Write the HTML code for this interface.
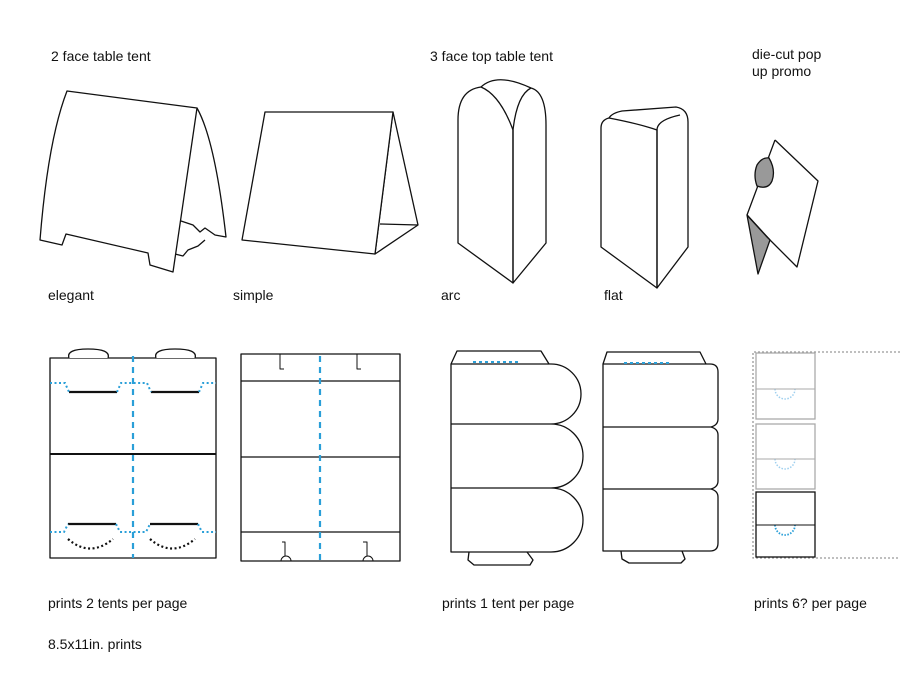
<!DOCTYPE html>
<html><head><meta charset="utf-8"><style>
body{margin:0;background:#fff;}
svg{display:block}
text{font-family:"Liberation Sans",sans-serif;font-size:14px;fill:#111;}
</style></head><body>
<svg width="900" height="695" viewBox="0 0 900 695" xmlns="http://www.w3.org/2000/svg">
<g fill="none" stroke="#111" stroke-width="1.3" stroke-linejoin="round">
<!-- elegant -->
<path d="M197,108 Q215,140 226,237 L215,235 L205,228 L200,232 L193,225 L178,220 L175,254 L183,256 L188,250 L198,246 L205,240" fill="#fff"/>
<path d="M67,91 L197,108 L173,272 L150,265 L148,253 L66,234 L62,245 L40,240 Q48,140 67,91 Z" fill="#fff"/>
<!-- simple -->
<path d="M393,112 L418,225 L375,254 Z M380,224 L418,225"/>
<path d="M265,112 L393,112 L375,254 L242,240 Z" fill="#fff"/>
<!-- arc -->
<path d="M458,243 L458,120 Q458,90 481,87 Q500,95 513,130 L513,283 Z"/>
<path d="M481,87 Q497,72 531,88 Q546,92 546,125 L546,243 L513,283 L513,130 Q517,95 531,88"/>
<!-- flat -->
<path d="M601,247 L601,128 Q601,120 609,118 Q640,124 657,130 L657,288 Z"/>
<path d="M609,118 Q612,113 622,111 L676,107 Q688,109 688,122 L688,247 L657,288 L657,130 Q657,120 680,115"/>
<!-- die-cut -->
<path d="M775,140 L818,181 L797,267 L768,238 M775,140 L747,215" fill="#fff"/>
<path d="M747,215 L758,274 L770,240 Z" fill="#999"/>
<path d="M769,158 Q776,170 772,181 Q768,190 757,186 Q753,175 757,165 Q762,157 769,158 Z" fill="#999"/>
<path d="M747,215 L768,238"/>
<!-- elegant flat -->
<rect x="50" y="358" width="166" height="200"/>
<path d="M69,358 Q66,349 88,349 Q111,349 108,358 M156,358 Q153,349 175,349 Q198,349 195,358" fill="#fff"/>
<line x1="50" y1="454" x2="216" y2="454" stroke-width="2"/>
<path d="M69,392 L117,392 M151,392 L199,392 M68,524 L116,524 M150,524 L198,524" stroke-width="2.2"/>
<!-- simple flat -->
<rect x="241" y="354" width="159" height="207"/>
<path d="M241,381 L400,381 M241,457 L400,457 M241,532 L400,532"/>
<path d="M280,354 L280,369 L284,369 M357,354 L357,369 L361,369" stroke-width="1"/>
<path d="M281,561 A5,5 0 0 1 291,561 M363,561 A5,5 0 0 1 373,561 M285,556 L285,542 L282,542 M367,556 L367,542 L363,542" stroke-width="1"/>
<!-- arc flat -->
<path d="M451,364 L457,351 L541,351 L549,364"/>
<path d="M451,364 L551,364 A30,30 0 0 1 551,424 A32,32 0 0 1 551,488 A32,32 0 0 1 551,552 L451,552 Z M451,424 L551,424 M451,488 L551,488" fill="#fff"/>
<path d="M469,552 L468,560 L474,565 L530,565 L533,560 L527,552"/>
<!-- flat flat -->
<path d="M603,364 L607,352 L700,352 L706,364"/>
<path d="M603,364 L710,364 Q718,364 718,372 L718,419 Q718,425 711,427 Q718,429 718,435 L718,481 Q718,487 711,489 Q718,491 718,497 L718,543 Q718,551 710,551 L603,551 Z M603,427 L711,427 M603,489 L711,489" fill="#fff"/>
<path d="M621,551 L622,559 L629,563 L681,563 L685,559 L682,551"/>
</g>
<!-- blue lines -->
<g fill="none" stroke="#2a9fd8">
<line x1="133" y1="356" x2="133" y2="558" stroke-width="2.2" stroke-dasharray="6,5"/>
<line x1="320" y1="356" x2="320" y2="561" stroke-width="2.2" stroke-dasharray="6,5"/>
<path d="M50,383 L65,383 L69,392 M117,392 L121,383 L147,383 L151,392 M199,392 L203,383 L216,383" stroke-width="2" stroke-dasharray="2,2.5"/>
<path d="M50,532 L64,532 L68,524 M116,524 L120,532 L146,532 L150,524 M198,524 L202,532 L216,532" stroke-width="2" stroke-dasharray="2,2.5"/>
<line x1="473" y1="362" x2="520" y2="362" stroke-width="2" stroke-dasharray="3,3"/>
<line x1="624" y1="363" x2="672" y2="363" stroke-width="2" stroke-dasharray="3,3"/>
<path d="M775,389 A10,10 0 0 0 795,389 M775,459 A10,10 0 0 0 795,459" stroke="#9fd0ef" stroke-width="1.5" stroke-dasharray="1.5,1.5"/>
<path d="M775,525 A10,10 0 0 0 795,525" stroke-width="1.8" stroke-dasharray="1.5,1.5"/>
</g>
<path d="M68,539 Q90,558 113,539 M150,539 Q172,558 195,539" fill="none" stroke="#111" stroke-width="2.2" stroke-dasharray="2,2.5"/>
<!-- die layout -->
<g fill="none">
<path d="M900,352 L753,352 L753,558 L900,558" stroke="#999" stroke-width="1.3" stroke-dasharray="2,2"/>
<rect x="756" y="353" width="59" height="66" stroke="#aaa" stroke-width="1.3"/>
<line x1="756" y1="389" x2="815" y2="389" stroke="#aaa"/>
<rect x="756" y="424" width="59" height="65" stroke="#aaa" stroke-width="1.3"/>
<line x1="756" y1="459" x2="815" y2="459" stroke="#aaa"/>
<rect x="756" y="492" width="59" height="65" stroke="#111" stroke-width="1.3"/>
<line x1="756" y1="525" x2="815" y2="525" stroke="#111"/>
</g>
<text x="51" y="61">2 face table tent</text>
<text x="430" y="61">3 face top table tent</text>
<text x="752" y="59">die-cut pop</text>
<text x="752" y="76">up promo</text>
<text x="48" y="300">elegant</text>
<text x="233" y="300">simple</text>
<text x="441" y="300">arc</text>
<text x="604" y="300">flat</text>
<text x="48" y="608">prints 2 tents per page</text>
<text x="442" y="608">prints 1 tent per page</text>
<text x="754" y="608">prints 6? per page</text>
<text x="48" y="649">8.5x11in. prints</text>
</svg>
</body></html>
